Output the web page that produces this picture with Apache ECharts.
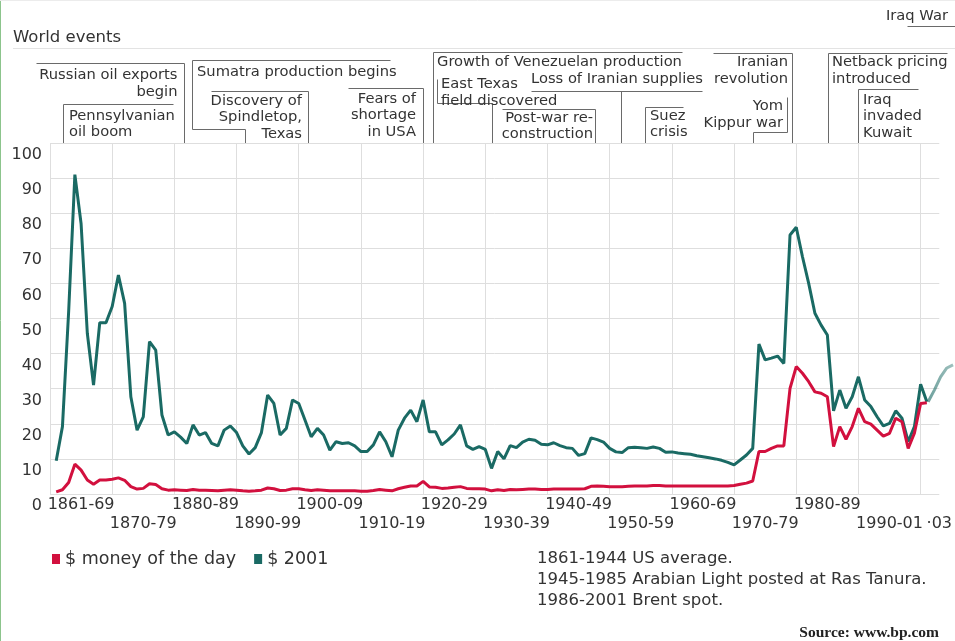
<!DOCTYPE html>
<html>
<head>
<meta charset="utf-8">
<script src="https://cdn.jsdelivr.net/npm/echarts@6/dist/echarts.min.js"></script>
<style>
  html, body { margin: 0; padding: 0; background: #fff; }
  #chart { width: 955px; height: 641px; }
</style>
</head>
<body>
<div id="chart"></div>
<script>
// ---------------- DATA ----------------
const START_YEAR = 1861;

// Crude oil price, $ money of the day (1861 .. 2001)
const priceMoneyOfDay = [
  0.6, 1.2, 3.3, 8.5, 6.8, 4.0, 2.8, 4.0, 4.0, 4.2,
  4.6, 3.9, 2.1, 1.4, 1.6, 2.9, 2.7, 1.5, 1.1, 1.2,
  1.1, 1.0, 1.3, 1.1, 1.1, 1.0, 0.9, 1.1, 1.2, 1.1,
  0.9, 0.8, 0.9, 1.1, 1.7, 1.5, 1.0, 1.1, 1.5, 1.5,
  1.2, 1.0, 1.2, 1.1, 0.9, 0.9, 0.9, 0.9, 0.9, 0.8,
  0.8, 1.0, 1.3, 1.1, 0.9, 1.5, 1.9, 2.3, 2.3, 3.6,
  2.0, 1.9, 1.6, 1.7, 1.9, 2.1, 1.6, 1.5, 1.5, 1.4,
  0.9, 1.2, 1.0, 1.3, 1.2, 1.3, 1.4, 1.4, 1.3, 1.3,
  1.4, 1.4, 1.4, 1.4, 1.4, 1.5, 2.2, 2.3, 2.2, 2.1,
  2.1, 2.1, 2.2, 2.3, 2.3, 2.3, 2.4, 2.4, 2.3, 2.3,
  2.3, 2.3, 2.3, 2.3, 2.3, 2.3, 2.3, 2.3, 2.3, 2.4,
  2.8, 3.1, 3.7, 12.1, 12.1, 13.0, 13.7, 13.7, 30.1, 36.3,
  34.4, 32.0, 29.1, 28.7, 27.7, 13.5, 19.2, 15.6, 19.2, 24.4,
  20.6, 19.9, 18.2, 16.5, 17.3, 21.6, 20.6, 13.0, 17.3, 25.8,
  26.0
];

// Crude oil price, $ 2001 (1861 .. 2001)
const price2001 = [
  9.5, 19.2, 52, 91, 77, 45.8, 31, 48.8, 48.8, 53.4,
  62.4, 54.3, 27.7, 18.2, 22, 43.4, 41, 22.5, 16.8, 17.7,
  16.2, 14.4, 19.7, 16.8, 17.5, 14.4, 13.7, 18.2, 19.4, 17.5,
  13.7, 11.4, 13.2, 17.5, 28.2, 25.8, 16.8, 18.7, 26.8, 25.8,
  21.1, 16.3, 18.7, 16.8, 12.5, 14.9, 14.4, 14.6, 13.7, 12.1,
  12.1, 14, 17.7, 14.9, 10.6, 18.2, 21.6, 23.9, 20.6, 26.8,
  17.7, 17.7, 14, 15.4, 17.1, 19.7, 13.7, 12.7, 13.5, 12.7,
  7.3, 12.1, 10, 13.8, 13.2, 14.8, 15.6, 15.3, 14.2, 14,
  14.6, 13.8, 13.2, 13, 11, 11.5, 16, 15.5, 14.8, 13,
  12, 11.8, 13.2, 13.3, 13.2, 13, 13.4, 13, 11.9, 12,
  11.7, 11.5, 11.3, 10.9, 10.6, 10.3, 10, 9.6, 9, 8.3,
  9.7, 11.1, 13, 42.7, 38.2, 38.7, 39.3, 37.2, 73.8, 76,
  67.6, 60, 51.5, 48.1, 45.3, 23.7, 29.6, 24.4, 27.7, 33.4,
  26.8, 24.9, 22, 19.4, 20.1, 23.7, 21.6, 14.9, 19.2, 31.3,
  26.3
];

// faded continuation of the $ 2001 line
const extYears = [2001, 2002, 2003, 2004, 2005];
const ext2001 = [26.3, 29.6, 33.4, 35.9, 36.8];

// x axis labels (decades, staggered on two rows)
const decadeLabelYears = [1865, 1875, 1885, 1895, 1905, 1915, 1925, 1935, 1945, 1955, 1965, 1975, 1985, 1995];
const decadeLabels = ['1861-69', '1870-79', '1880-89', '1890-99', '1900-09', '1910-19', '1920-29',
                      '1930-39', '1940-49', '1950-59', '1960-69', '1970-79', '1980-89', '1990-01'];
const tailLabelYear = 2003;
const tailLabel = '\u00b703';

const seriesNames = ['$ money of the day', '$ 2001'];
const notes = ['1861-1944 US average.', '1945-1985 Arabian Light posted at Ras Tanura.', '1986-2001 Brent spot.'];

// World events annotations
const events = [
  { text: 'Russian oil exports\nbegin', x: 177.5, y: 66.5, align: 'right', lh: 17, path: [[36,63],[184,63],[184,143]] },
  { text: 'Pennsylvanian\noil boom', x: 69, y: 107.5, align: 'left', lh: 16.5, path: [[173,104],[63,104],[63,143]] },
  { text: 'Sumatra production begins', x: 197, y: 63.5, align: 'left', lh: 16.5, path: [[390,60],[192,60],[192,129],[245,129],[245,143]] },
  { text: 'Discovery of\nSpindletop,\nTexas', x: 302, y: 92.5, align: 'right', lh: 16.5, path: [[211,91],[308,91],[308,143]] },
  { text: 'Fears of\nshortage\nin USA', x: 416, y: 90.5, align: 'right', lh: 16.5, path: [[348,88],[423,88],[423,143]] },
  { text: 'Growth of Venezuelan production', x: 437, y: 53.5, align: 'left', lh: 16.5, path: [[682,52],[433,52],[433,143]] },
  { text: 'East Texas\nfield discovered', x: 441, y: 75.5, align: 'left', lh: 17, path: [[437,79],[437,103],[492,103],[492,143]] },
  { text: 'Loss of Iranian supplies', x: 531, y: 71, align: 'left', lh: 16.5, path: [[531,91],[702,91]] },
  { text: '', x: 0, y: 0, align: 'left', lh: 16, path: [[621,91],[621,143]] },
  { text: 'Post-war re-\nconstruction', x: 593, y: 110.5, align: 'right', lh: 16, path: [[502,109],[595,109],[595,143]] },
  { text: 'Suez\ncrisis', x: 650, y: 108.5, align: 'left', lh: 16, path: [[683,107],[645,107],[645,143]] },
  { text: 'Iranian\nrevolution', x: 788, y: 53.5, align: 'right', lh: 17, path: [[713,53],[792,53],[792,143]] },
  { text: 'Yom\nKippur war', x: 783, y: 98, align: 'right', lh: 17, path: [[787,97],[787,132],[753,132],[753,143]] },
  { text: 'Netback pricing\nintroduced', x: 832, y: 53.5, align: 'left', lh: 17, path: [[947,53],[828,53],[828,143]] },
  { text: 'Iraq\ninvaded\nKuwait', x: 863, y: 91.5, align: 'left', lh: 16.5, path: [[918,89],[858,89],[858,143]] },
  { text: 'Iraq War', x: 886, y: 8, align: 'left', lh: 17, path: [[907,26],[955,26]] }
];

// ---------------- CHART ----------------
const RED = '#d2103e';
const TEAL = '#1a6a64';
const GRID = '#dedede';
const TXT = '#333';
const FONT = '"DejaVu Sans", Verdana, sans-serif';

const chart = echarts.init(document.getElementById('chart'), null, { renderer: 'canvas' });

const graphics = [];
// frame: green left edge and faint top line
graphics.push({ type: 'line', shape: { x1: 0.5, y1: 0, x2: 0.5, y2: 641 }, style: { stroke: '#8cc48c', lineWidth: 1 } });
graphics.push({ type: 'line', shape: { x1: 0, y1: 0.5, x2: 955, y2: 0.5 }, style: { stroke: '#ececec', lineWidth: 1 } });
// "World events" heading + separator
graphics.push({ type: 'text', style: { text: 'World events', x: 13, y: 29, fill: TXT, fontSize: 16.5, fontFamily: FONT, align: 'left', verticalAlign: 'top' } });
graphics.push({ type: 'line', shape: { x1: 13, y1: 48.5, x2: 955, y2: 48.5 }, style: { stroke: '#e3e3e3', lineWidth: 1 } });

events.forEach(ev => {
  graphics.push({
    type: 'polyline',
    shape: { points: ev.path.map(p => [Math.round(p[0]) + 0.5, Math.round(p[1]) + 0.5]) },
    style: { stroke: '#6a6a6a', lineWidth: 1, fill: null }
  });
  if (ev.text) {
    graphics.push({
      type: 'text',
      style: { text: ev.text, x: ev.x, y: ev.y, fill: TXT, fontSize: 14.7, fontFamily: FONT,
               align: ev.align, verticalAlign: 'top', lineHeight: ev.lh }
    });
  }
});

// notes and source
graphics.push({ type: 'text', style: { text: notes.join('\n'), x: 537, y: 548.5, fill: TXT, fontSize: 16.5, fontFamily: FONT, align: 'left', verticalAlign: 'top', lineHeight: 21 } });
graphics.push({ type: 'text', style: { text: 'Source: www.bp.com', x: 939, y: 625, fill: '#222', fontSize: 15.5, fontWeight: 'bold', fontFamily: '"Liberation Serif", "Times New Roman", serif', align: 'right', verticalAlign: 'top' } });

const toPairs = (arr) => arr.map((v, i) => [START_YEAR + i, v]);

// same pixels per year on both grids: 890.6 px / 143 years
const PX_PER_YEAR = 890.6 / 143;

const option = {
  animation: false,
  backgroundColor: '#fff',
  textStyle: { fontFamily: FONT },
  grid: [
    { left: 50, right: 14.4, top: 143, bottom: 147, containLabel: false },
    { left: 50, right: 0, top: 143, bottom: 147, containLabel: false }
  ],
  legend: {
    data: seriesNames,
    left: 47, top: 545,
    icon: 'rect', itemWidth: 8, itemHeight: 10, itemGap: 18,
    textStyle: { color: TXT, fontSize: 17.5, fontFamily: FONT }
  },
  xAxis: [
    {
      type: 'value', gridIndex: 0, min: 1860, max: 2003, interval: 10,
      axisLine: { show: false }, axisTick: { show: false }, axisLabel: { show: false },
      splitLine: { show: true, showMinLine: true, showMaxLine: false, lineStyle: { color: GRID, width: 1 } }
    },
    {
      type: 'value', gridIndex: 0, min: 1860, max: 2003, interval: 5, position: 'bottom', offset: 0,
      axisLine: { show: false }, axisTick: { show: false }, splitLine: { show: false },
      axisLabel: {
        show: true, margin: 1, showMinLabel: true, showMaxLabel: true,
        color: TXT, fontSize: 16, fontFamily: FONT, lineHeight: 19,
        formatter: function (val) {
          const y = Math.round(val);
          const idx = decadeLabelYears.indexOf(y);
          if (idx >= 0) return (idx % 2 ? '\n' : '') + decadeLabels[idx];
          if (y === tailLabelYear) return '\n' + tailLabel;
          return '';
        }
      }
    },
    {
      type: 'value', gridIndex: 1, min: 1860, max: 1860 + 905 / PX_PER_YEAR, show: false,
      splitLine: { show: false }
    }
  ],
  yAxis: [
    {
      type: 'value', gridIndex: 0, min: 0, max: 100, interval: 10,
      axisLine: { show: false }, axisTick: { show: false },
      splitLine: { show: true, lineStyle: { color: GRID, width: 1 } },
      axisLabel: { color: TXT, fontSize: 16, fontFamily: FONT, margin: 8, verticalAlign: 'top', lineHeight: 16, padding: [4, 0, 0, 0] }
    },
    {
      type: 'value', gridIndex: 1, min: 0, max: 100, show: false, splitLine: { show: false }
    }
  ],
  series: [
    {
      name: seriesNames[1], type: 'line', xAxisIndex: 0, yAxisIndex: 0, data: toPairs(price2001),
      symbol: 'none', lineStyle: { color: TEAL, width: 3 }, itemStyle: { color: TEAL }, z: 2
    },
    {
      name: 'ext', type: 'line', xAxisIndex: 2, yAxisIndex: 1,
      data: extYears.map((y, i) => [y, ext2001[i]]),
      symbol: 'none',
      lineStyle: { width: 3, color: new echarts.graphic.LinearGradient(0, 0, 1, 0, [
        { offset: 0, color: 'rgba(26,106,100,0.65)' }, { offset: 1, color: 'rgba(26,106,100,0.4)' }]) },
      z: 1
    },
    {
      name: seriesNames[0], type: 'line', xAxisIndex: 0, yAxisIndex: 0, data: toPairs(priceMoneyOfDay),
      symbol: 'none', lineStyle: { color: RED, width: 3 }, itemStyle: { color: RED }, z: 3
    }
  ],
  graphic: graphics
};

chart.setOption(option);
</script>
</body>
</html>
